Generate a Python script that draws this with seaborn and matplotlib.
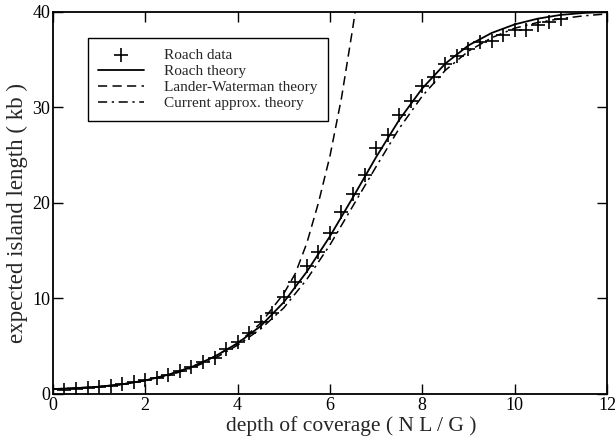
import matplotlib
matplotlib.use("Agg")
import matplotlib.pyplot as plt
import seaborn as sns
import numpy as np

# ---- data ----
data_x = [0.25, 0.5, 0.75, 1.0, 1.25, 1.5, 1.75, 2.0, 2.25, 2.5, 2.75, 3.0, 3.25, 3.5,
          3.75, 4.0, 4.25, 4.5, 4.75, 5.0, 5.25, 5.5, 5.75, 6.0, 6.25, 6.5, 6.75, 7.0,
          7.25, 7.5, 7.75, 8.0, 8.25, 8.5, 8.75, 9.0, 9.25, 9.5, 9.75, 10.0, 10.25,
          10.5, 10.75, 11.0]
data_y = [0.4, 0.5, 0.6, 0.7, 0.85, 1.0, 1.2, 1.5, 1.7, 2.0, 2.4, 2.8, 3.3, 3.8,
          4.7, 5.4, 6.4, 7.5, 8.5, 10.1, 11.7, 13.4, 14.9, 16.9, 19.0, 20.9, 22.9, 25.8,
          27.1, 29.2, 30.7, 32.2, 33.2, 34.5, 35.4, 36.1, 36.9, 37.0, 37.6, 38.1, 38.1,
          38.6, 39.0, 39.3]

theory_x = [0, 0.5, 1, 1.5, 2, 2.5, 3, 3.5, 4, 4.5, 5, 5.5, 6, 6.5, 7, 7.5, 8, 8.5,
            9, 9.5, 10, 10.5, 11, 11.5, 12]
roach_theory = [0.5, 0.6, 0.75, 1.0, 1.4, 2.0, 2.8, 3.9, 5.3, 7.1, 9.6, 12.8, 16.5,
                20.6, 24.8, 28.7, 32.0, 34.6, 36.5, 37.8, 38.7, 39.3, 39.7, 39.9, 40.0]
approx_theory = [0.5, 0.6, 0.75, 1.0, 1.4, 1.9, 2.7, 3.7, 5.1, 6.8, 9.0, 12.0, 15.6,
                 19.7, 23.8, 27.8, 31.2, 33.9, 35.9, 37.3, 38.3, 38.9, 39.3, 39.6, 39.8]

lw_x = [0, 0.5, 1, 1.5, 2, 2.5, 3, 3.5, 4, 4.5, 5, 5.25, 5.5, 5.75, 6.0, 6.25, 6.5, 6.55]
lw_y = [0.5, 0.6, 0.75, 1.0, 1.4, 2.0, 2.8, 3.9, 5.3, 7.4, 10.5, 12.6, 15.8, 20.0,
        24.9, 31.0, 38.5, 40.2]

x_ticks = [0, 2, 4, 6, 8, 10, 12]
y_ticks = [0, 10, 20, 30, 40]

sns.set_theme(style="ticks")
plt.rcParams['font.family'] = ['Liberation Serif', 'DejaVu Serif']

fig = plt.figure(figsize=(6.15, 4.44), dpi=100)
ax = fig.add_axes([0.086, 0.113, 0.901, 0.860])

sns.scatterplot(x=data_x, y=data_y, marker='+', s=110, color='black',
                linewidth=1.2, ax=ax, label='Roach data', zorder=3)
sns.lineplot(x=theory_x, y=roach_theory, color='black', linewidth=1.3, ax=ax,
             label='Roach theory', sort=False)
sns.lineplot(x=lw_x, y=lw_y, color='black', linewidth=1.1, ax=ax,
             label='Lander-Waterman theory', sort=False)
ax.lines[-1].set_dashes([6, 3.5])
sns.lineplot(x=theory_x, y=approx_theory, color='black', linewidth=1.1, ax=ax,
             label='Current approx. theory', sort=False)
ax.lines[-1].set_dashes([6, 3, 1.5, 3])

ax.set_xlim(0, 12)
ax.set_ylim(0, 40)
ax.set_xticks(x_ticks)
ax.set_yticks(y_ticks)
ax.tick_params(direction='in', length=7, width=1.0, top=True, right=True,
               labelsize=13, colors='black', pad=2)
for s in ax.spines.values():
    s.set_linewidth(1.3)
    s.set_color('black')

ax.set_xlabel('depth of coverage ( N L / G )', fontsize=15.5)
ax.set_ylabel('expected island length ( kb )', fontsize=16.5)
ax.xaxis.set_label_coords(0.538, -0.058)
ax.yaxis.set_label_coords(-0.045, 0.474)

leg = ax.legend(loc='upper left', bbox_to_anchor=(0.063, 0.932), borderaxespad=0,
                fontsize=11, frameon=True, fancybox=False, edgecolor='black',
                framealpha=1, handlelength=3.0, labelspacing=0.15, borderpad=0.7,
                handletextpad=1.3)
leg.get_frame().set_linewidth(1.0)

fig.savefig('out.png', dpi=100)
